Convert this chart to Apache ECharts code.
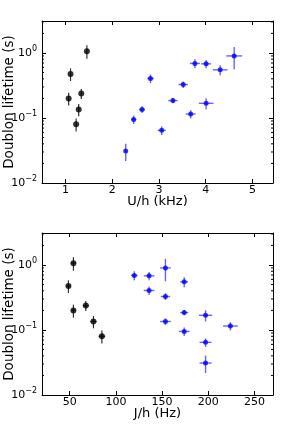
<!DOCTYPE html>
<html>
<head>
<meta charset="utf-8">
<script src="https://cdn.jsdelivr.net/npm/echarts@6/dist/echarts.min.js"></script>
<style>
html,body{margin:0;padding:0;background:#fff;}
#c{width:295px;height:425px;}
</style>
</head>
<body>
<div id="c"></div>
<script>
// ---- data ----
// black points
var uBlack = [1.07, 1.11, 1.23, 1.285, 1.34, 1.46];
var jBlack = [54, 48.6, 84.8, 75.7, 67.4, 54];
var tauBlack = [0.20, 0.475, 0.08, 0.135, 0.237, 1.065];
var tauBlackErr = [0.045, 0.105, 0.018, 0.029, 0.041, 0.25];
var uBlackErr = [0, 0, 0, 0, 0, 0];
var jBlackErr = [2.2, 2.2, 3.6, 3.3, 3.3, 2.5];
// blue points
var uBlue = [2.29, 2.46, 2.64, 2.82, 3.06, 3.30, 3.52, 3.68, 3.77, 4.01, 4.01, 4.31, 4.61];
var jBlue = [197, 173.9, 153.6, 135.9, 197, 173.9, 153.6, 223.9, 119.9, 135.9, 197, 173.9, 153.6];
var tauBlue = [0.031, 0.095, 0.135, 0.405, 0.0645, 0.185, 0.327, 0.115, 0.69, 0.68, 0.168, 0.55, 0.90];
var tauBlueErr = [0.0093, 0.014, 0.016, 0.061, 0.0097, 0.017, 0.038, 0.017, 0.11, 0.10, 0.033, 0.095, 0.34];
var uBlueErr = [0.02, 0.057, 0.064, 0.07, 0.086, 0.1, 0.1, 0.107, 0.107, 0.107, 0.157, 0.157, 0.17];
var jBlueErr = [6.5, 5.8, 5.8, 5.8, 6.5, 4.3, 5.1, 8, 3.6, 5.8, 7.2, 4.3, 5.8];
// axes
var uRange = [0.5, 5.44];
var jRange = [20, 270];
var tauRange = [0.01, 3.1];
var uTickStep = 1;
var jTickStep = 50;
var minorTau = [0.02,0.03,0.04,0.05,0.06,0.07,0.08,0.09,0.2,0.3,0.4,0.5,0.6,0.7,0.8,0.9,2,3];
var yLabel = 'Doublon lifetime (s)';
var uLabel = 'U/h (kHz)';
var jLabel = 'J/h (Hz)';

// ---- helpers ----
var FONT = 'DejaVu Sans';
function zip(xs, ys, xe, ye) {
  return xs.map(function (x, i) { return [x, ys[i], xe[i], ye[i]]; });
}
function errRender(color, width) {
  return function (params, api) {
    var x = api.value(0), y = api.value(1), xe = api.value(2), ye = api.value(3);
    var children = [];
    if (xe > 0) {
      var a = api.coord([x - xe, y]), b = api.coord([x + xe, y]);
      children.push({type: 'line', shape: {x1: a[0], y1: a[1], x2: b[0], y2: b[1]},
        style: {stroke: color, lineWidth: width}});
    }
    if (ye > 0) {
      var c = api.coord([x, y - ye]), d = api.coord([x, y + ye]);
      children.push({type: 'line', shape: {x1: c[0], y1: c[1], x2: d[0], y2: d[1]},
        style: {stroke: color, lineWidth: width}});
    }
    return {type: 'group', children: children};
  };
}
function minorRender(xr) {
  return function (params, api) {
    var v = api.value(1);
    var l = api.coord([xr[0], v]), r = api.coord([xr[1], v]);
    return {type: 'group', children: [
      {type: 'line', shape: {x1: l[0], y1: l[1], x2: l[0] + 2, y2: l[1]}, style: {stroke: '#000', lineWidth: 1}},
      {type: 'line', shape: {x1: r[0], y1: r[1], x2: r[0] - 2, y2: r[1]}, style: {stroke: '#000', lineWidth: 1}}
    ]};
  };
}
function xAxisDef(gi, range, step, name, top) {
  return {
    type: 'value', gridIndex: gi, min: range[0], max: range[1],
    position: top ? 'top' : 'bottom',
    name: top ? '' : name, nameLocation: 'middle', nameGap: 12, nameMoveOverlap: false,
    nameTextStyle: {fontFamily: FONT, fontSize: 13, color: '#000'},
    axisLine: {show: true, onZero: false, lineStyle: {color: '#000', width: 1}},
    axisTick: {show: true, inside: true, length: 4, lineStyle: {color: '#000'}},
    splitLine: {show: false},
    axisLabel: {
      show: !top, margin: 2, fontFamily: FONT, fontSize: 11, color: '#000',
      formatter: function (v) {
        var k = v / step;
        return Math.abs(k - Math.round(k)) < 1e-6 ? String(Math.round(v)) : '';
      }
    }
  };
}
function yAxisDef(gi, right) {
  return {
    type: 'log', gridIndex: gi, min: tauRange[0], max: tauRange[1], logBase: 10,
    position: right ? 'right' : 'left',
    name: right ? '' : yLabel, nameLocation: 'middle', nameGap: 26, nameMoveOverlap: false,
    nameTextStyle: {fontFamily: FONT, fontSize: 13.5, color: '#000'},
    axisLine: {show: true, onZero: false, lineStyle: {color: '#000', width: 1}},
    axisTick: {show: true, inside: true, length: 4, lineStyle: {color: '#000'}},
    splitLine: {show: false},
    axisLabel: {
      show: !right, margin: 5, color: '#000',
      formatter: function (v) {
        var l = Math.log10(v), e = Math.round(l);
        if (Math.abs(l - e) > 1e-6) return '';
        var es = e < 0 ? '\u2212' + (-e) : String(e);
        return '{b|10}{s|' + es + '}';
      },
      rich: {
        b: {fontFamily: FONT, fontSize: 11, color: '#000'},
        s: {fontFamily: FONT, fontSize: 8, color: '#000', padding: [0, 0, 8, 0]}
      }
    }
  };
}
function panelSeries(gi, xs, xsBlackErr, xsBlue, xsBlueErr, xr) {
  var xi = gi * 2, yi = gi * 2;
  return [
    {type: 'custom', xAxisIndex: xi, yAxisIndex: yi, clip: false, z: 1,
      renderItem: minorRender(xr), encode: {x: 0, y: 1},
      data: minorTau.map(function (v) { return [xr[0], v]; })},
    {type: 'custom', xAxisIndex: xi, yAxisIndex: yi, z: 2, encode: {x: 0, y: 1},
      renderItem: errRender('rgba(0,0,255,0.6)', 1.4),
      data: zip(xsBlue, tauBlue, xsBlueErr, tauBlueErr)},
    {type: 'custom', xAxisIndex: xi, yAxisIndex: yi, z: 2, encode: {x: 0, y: 1},
      renderItem: errRender('#333', 1.2),
      data: zip(xs, tauBlack, xsBlackErr, tauBlackErr)},
    {type: 'scatter', xAxisIndex: xi, yAxisIndex: yi, z: 3, symbol: 'circle', symbolSize: 5,
      itemStyle: {color: '#0000ff'},
      data: xsBlue.map(function (x, i) { return [x, tauBlue[i]]; })},
    {type: 'scatter', xAxisIndex: xi, yAxisIndex: yi, z: 3, symbol: 'circle', symbolSize: 6,
      itemStyle: {color: '#000'},
      data: xs.map(function (x, i) { return [x, tauBlack[i]]; })}
  ];
}

var chart = echarts.init(document.getElementById('c'), null, {renderer: 'canvas'});
chart.setOption({
  animation: false,
  backgroundColor: '#fff',
  grid: [
    {left: 42, top: 21, width: 231, height: 162, containLabel: false, outerBoundsMode: 'none'},
    {left: 42, top: 233, width: 231, height: 162, containLabel: false, outerBoundsMode: 'none'}
  ],
  xAxis: [
    xAxisDef(0, uRange, uTickStep, uLabel, false),
    xAxisDef(0, uRange, uTickStep, uLabel, true),
    xAxisDef(1, jRange, jTickStep, jLabel, false),
    xAxisDef(1, jRange, jTickStep, jLabel, true)
  ],
  yAxis: [yAxisDef(0, false), yAxisDef(0, true), yAxisDef(1, false), yAxisDef(1, true)],
  series: [].concat(
    panelSeries(0, uBlack, uBlackErr, uBlue, uBlueErr, uRange),
    panelSeries(1, jBlack, jBlackErr, jBlue, jBlueErr, jRange)
  )
});
</script>
</body>
</html>
